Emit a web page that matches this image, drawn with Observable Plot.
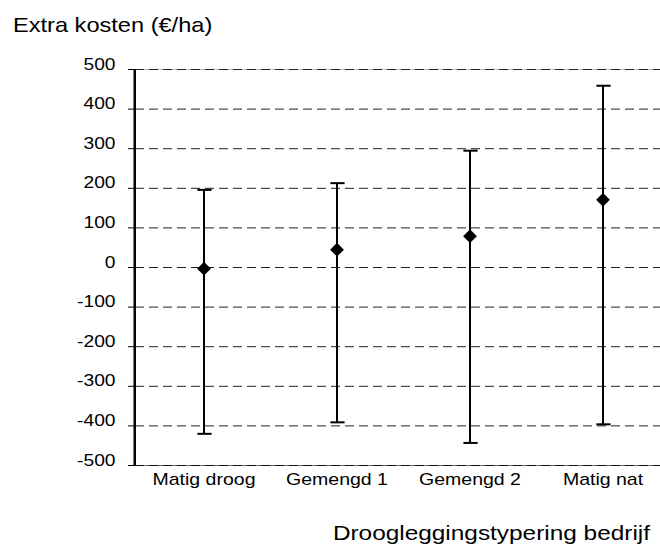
<!DOCTYPE html>
<html><head><meta charset="utf-8">
<script src="https://cdn.jsdelivr.net/npm/d3@7"></script>
<script src="https://cdn.jsdelivr.net/npm/@observablehq/plot@0.6"></script>
<style>body{margin:0;background:#fff;} #chart{width:660px;height:547px;}</style>
</head><body><div id="chart"></div>
<script>
// ---- data ----
const categories = ["Matig droog", "Gemengd 1", "Gemengd 2", "Matig nat"];
const meanValues = [-3, 45, 79, 171];
const lowValues  = [-420, -391, -443, -396];
const highValues = [196, 213, 295, 459];
const yTicks = [-500, -400, -300, -200, -100, 0, 100, 200, 300, 400, 500];
const yTitle = "Extra kosten (€/ha)";
const xTitle = "Droogleggingstypering bedrijf";

const rows = categories.map((c, i) => ({cat: c, mean: meanValues[i], low: lowValues[i], high: highValues[i]}));
const gridTicks = yTicks.filter(t => t !== yTicks[0]);
const yMin = yTicks[0], yMax = yTicks[yTicks.length - 1];

const W = 660, H = 547, mL = 135, mT = 69, mB = 82;
const FONT = "'Liberation Sans', Arial, sans-serif";
const bw = (670 - mL) / categories.length;

const plot = Plot.plot({
  width: W, height: H,
  marginLeft: mL, marginRight: 0, marginTop: mT, marginBottom: mB,
  style: {fontFamily: FONT, background: "#fff", color: "#000"},
  x: {type: "band", domain: categories, range: [mL, 670], padding: 0, label: null},
  y: {domain: [yMin, yMax], label: null},
  marks: [
    Plot.ruleY([yMax], {stroke: "#bbb"}),
    Plot.ruleY(gridTicks, {stroke: "#222", strokeDasharray: "9,5"}),
    Plot.ruleY([yMin], {stroke: "#666"}),
    Plot.ruleY([yMin], {stroke: "#111", strokeDasharray: "9,5"}),
    Plot.axisY({ticks: yTicks, tickSize: 7, tickPadding: 13, tickFormat: d => String(d), fontSize: 16, label: null}),
    Plot.axisX({tickSize: 0, tickPadding: 19, fontSize: 16, label: null}),
    Plot.ruleX(rows, {x: "cat", y1: "low", y2: "high", strokeWidth: 2, stroke: "#000"}),
    Plot.tickY(rows, {x: "cat", y: "high", strokeWidth: 2, stroke: "#000", insetLeft: bw / 2 - 6.5, insetRight: bw / 2 - 8.5}),
    Plot.tickY(rows, {x: "cat", y: "low", strokeWidth: 2, stroke: "#000", insetLeft: bw / 2 - 6.5, insetRight: bw / 2 - 8.5}),
    Plot.dot(rows, {x: "cat", y: "mean", symbol: "diamond2", r: 6.2, fill: "#000", stroke: "none"})
  ]
});
document.getElementById("chart").appendChild(plot);

const svg = d3.select(plot);

function stretch(sel, sx) {
  sel.each(function () {
    const t = this.getAttribute("transform") || "";
    const x = this.getAttribute("x"), y = this.getAttribute("y");
    let extra = "";
    if (x != null || y != null) {
      extra = ` translate(${+x || 0},${+y || 0})`;
      this.removeAttribute("x"); this.removeAttribute("y");
    }
    this.setAttribute("transform", `${t}${extra} scale(${sx},1)`);
  });
}
stretch(svg.selectAll('g[aria-label="y-axis tick label"] text'), 1.2);
stretch(svg.selectAll('g[aria-label="x-axis tick label"] text'), 1.22);

svg.append("text").text(yTitle)
  .attr("font-family", FONT).attr("font-size", 20).attr("fill", "#000")
  .attr("text-anchor", "start")
  .attr("transform", "translate(13,32) scale(1.18,1)");
svg.append("text").text(xTitle)
  .attr("font-family", FONT).attr("font-size", 20.5).attr("fill", "#000")
  .attr("text-anchor", "end")
  .attr("transform", "translate(650,540) scale(1.19,1)");

// y-axis line, placed with the plot's own y scale, drawn last so nothing covers it
const ys = plot.scale("y");
const yBottom = ys.apply(yMin), yTop = ys.apply(yMax);
svg.append("rect")
  .attr("x", mL - 1.5).attr("y", yTop)
  .attr("width", 2.5).attr("height", yBottom - yTop)
  .attr("fill", "#000");
</script>
</body></html>
